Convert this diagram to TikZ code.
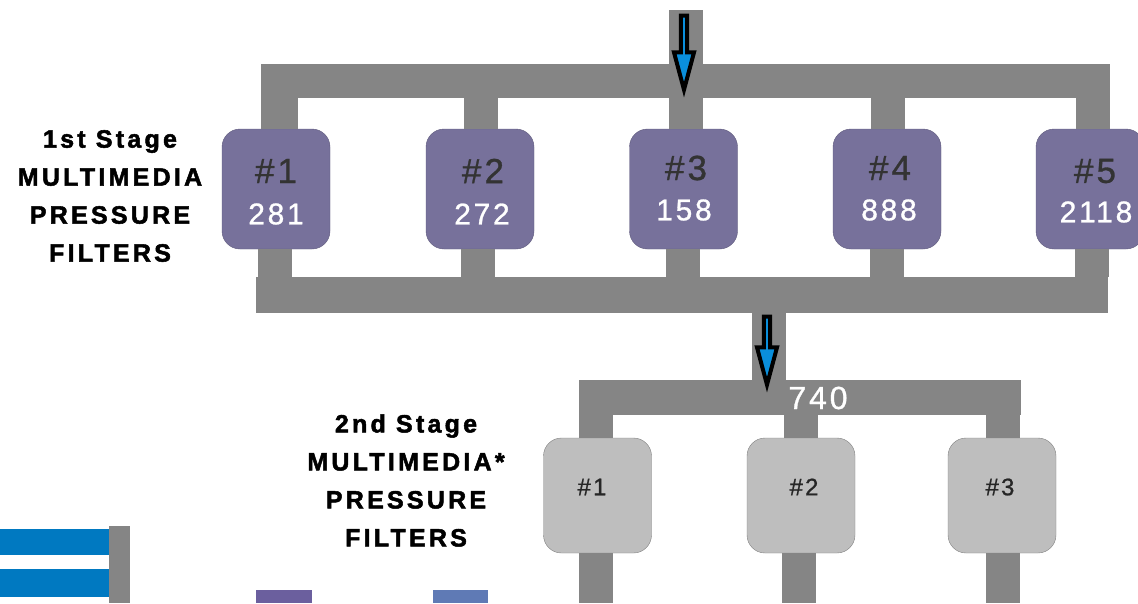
\documentclass[tikz,border=0pt]{standalone}
\usepackage{fontspec}
\setmainfont{Liberation Sans}
\newfontfamily\spacedfont[LetterSpace=13,BoldFeatures={FakeBold=2}]{Liberation Sans}
\newfontfamily\numfont[LetterSpace=9,FakeBold=0.9]{Liberation Sans}
\usepackage{xcolor}
\usepackage{tikz}
\usetikzlibrary{shapes.arrows}
\definecolor{pipegray}{HTML}{858585}
\definecolor{filterpurple}{HTML}{77719B}
\definecolor{filtergray}{HTML}{BEBEBE}
\definecolor{flowblue}{HTML}{0A8FDC}
\definecolor{tubeblue}{HTML}{0079C1}
\definecolor{stubpurple}{HTML}{6B5F9E}
\definecolor{stubblue}{HTML}{5F7AB5}

\begin{document}
\begin{tikzpicture}[x=1pt,y=-1pt,
  pipe/.style={pipegray, line width=34pt},
  header/.style={fill=pipegray, inner sep=0pt, minimum height=34pt},
  firstfilter/.style={fill=filterpurple, draw=filterpurple!80!black, rounded corners=18pt, minimum width=108pt, minimum height=120pt, inner sep=0pt},
  secondfilter/.style={fill=filtergray, draw=gray, rounded corners=18pt, minimum width=108pt, minimum height=115pt, inner sep=0pt},
  stagetitle/.style={font=\spacedfont\bfseries\fontsize{25}{38}\selectfont, align=center, black},
  bignum/.style={font=\numfont\fontsize{35}{35}\selectfont, text=black!80},
  flownum/.style={font=\numfont\fontsize{30}{30}\selectfont, text=white},
  smallnum/.style={font=\numfont\fontsize{24}{24}\selectfont, text=black!85},
  flowarrow/.style={single arrow, draw=black, fill=flowblue, line width=4pt, rotate=-90, inner sep=0pt, minimum width=20pt, single arrow head extend=4.5pt, single arrow tip angle=30}]
\useasboundingbox (0,0) rectangle (1138,603);
% headers
\node[header, minimum width=849pt] (topHeader) at (685.5,81) {};
\node[header, minimum width=852pt, minimum height=36pt] (midHeader) at (682,295) {};
\node[header, minimum width=442pt, minimum height=35pt] (lowHeader) at (800,397.5) {};
% 1st stage filters
\node[firstfilter] (first1) at (276,189) {};
\node[firstfilter] (first2) at (480,189) {};
\node[firstfilter] (first3) at (683.5,189) {};
\node[firstfilter] (first4) at (887,189) {};
\node[firstfilter] (first5) at (1090,189) {};
\node[bignum] (id1) at (276,171) {\#1};
\node[bignum] (id2) at (483,171) {\#2};
\node[bignum] (id3) at (686,168) {\#3};
\node[bignum] (id4) at (890,168) {\#4};
\node[bignum] (id5) at (1095,171) {\#5};
\node[flownum] (flow1) at (276,214) {281};
\node[flownum] (flow2) at (482,214) {272};
\node[flownum] (flow3) at (684,210) {158};
\node[flownum] (flow4) at (889,210) {888};
\node[flownum] (flow5) at (1096,212) {2118};
% pipes of the 1st stage
\draw[pipe, line width=37pt] ([xshift=3.5pt]first1.north) -- ([xshift=3.5pt]first1.north |- topHeader.south);
\draw[pipe] ([xshift=1pt]first2.north) -- ([xshift=1pt]first2.north |- topHeader.south);
\draw[pipe] ([xshift=2pt]first3.north) -- ([xshift=2pt]first3.north |- topHeader.south);
\draw[pipe] ([xshift=1pt]first4.north) -- ([xshift=1pt]first4.north |- topHeader.south);
\draw[pipe] ([xshift=3pt]first5.north) -- ([xshift=3pt]first5.north |- topHeader.south);
\draw[pipe] ([xshift=-1pt]first1.south) -- ([xshift=-1pt]first1.south |- midHeader.north);
\draw[pipe] ([xshift=-2pt]first2.south) -- ([xshift=-2pt]first2.south |- midHeader.north);
\draw[pipe] ([xshift=-1pt]first3.south) -- ([xshift=-1pt]first3.south |- midHeader.north);
\draw[pipe] (first4.south) -- (first4.south |- midHeader.north);
\draw[pipe] ([xshift=1.5pt]first5.south) -- ([xshift=1.5pt]first5.south |- midHeader.north);
% inlet and link to the 2nd stage
\coordinate (inletTop) at (686,10);
\draw[pipe] (inletTop) -- (inletTop |- topHeader.north);
\coordinate (linkTop) at (768.5,313);
\draw[pipe] (linkTop) -- (linkTop |- lowHeader.north);
% 2nd stage filters
\node[secondfilter] (second1) at (597.5,495.5) {};
\node[secondfilter] (second2) at (801,495.5) {};
\node[secondfilter] (second3) at (1002,495.5) {};
\node[smallnum] (sid1) at (592,487) {\#1};
\node[smallnum] (sid2) at (804,487) {\#2};
\node[smallnum] (sid3) at (1000,487) {\#3};
\coordinate (end1) at (596,603);
\coordinate (end2) at (799,603);
\coordinate (end3) at (1003,603);
\draw[pipe] (second1.north -| end1) -- (end1 |- lowHeader.south);
\draw[pipe] (second2.north) -- (second2.north |- lowHeader.south);
\draw[pipe] (second3.north -| end3) -- (end3 |- lowHeader.south);
\draw[pipe] (second1.south -| end1) -- (end1);
\draw[pipe] (second2.south -| end2) -- (end2);
\draw[pipe] (second3.south -| end3) -- (end3);
\node[flownum, font=\numfont\fontsize{32}{32}\selectfont] (flowLink) at (818,398) {740};
% flow arrows
\node[flowarrow, minimum height=74pt] (arrowA) at (684,47) {};
\node[flowarrow, minimum height=68pt] (arrowB) at (767,345) {};
% stage labels
\node[stagetitle] (firstTitle) at (110,196) {1st Stage\\MULTIMEDIA\\PRESSURE\\FILTERS};
\node[stagetitle] (secondTitle) at (406,480.5) {2nd Stage\\MULTIMEDIA*\\PRESSURE\\FILTERS};
% cropped parts at the bottom
\fill[tubeblue] (0,529) rectangle (109,555);
\fill[tubeblue] (0,569) rectangle (109,597);
\fill[pipegray] (109,526) rectangle (130,603);
\fill[stubpurple] (256,590) rectangle (312,603);
\fill[stubblue] (433,590) rectangle (488,603);
\end{tikzpicture}
\end{document}
